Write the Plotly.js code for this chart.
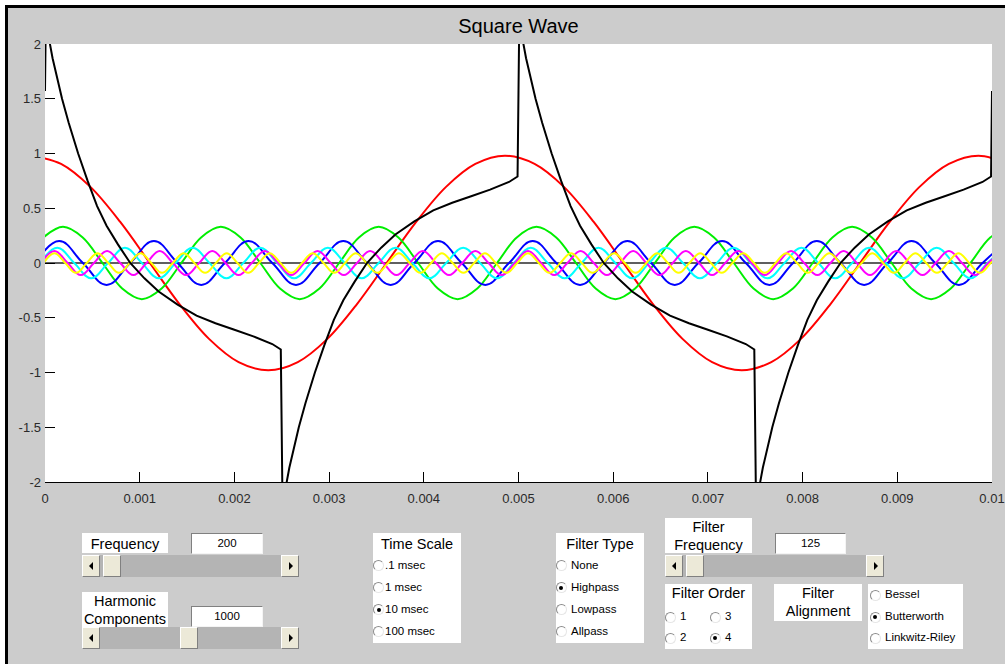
<!DOCTYPE html>
<html>
<head>
<meta charset="utf-8">
<script src="https://cdn.plot.ly/plotly-3.0.1.min.js"></script>
<style>
html,body{margin:0;padding:0;width:1005px;height:664px;overflow:hidden;background:#ffffff;}
body{position:relative;font-family:"Liberation Sans",Arial,sans-serif;}
#frame{position:absolute;left:5px;top:5px;width:1000px;height:659px;box-sizing:border-box;background:#cccccc;border-left:3px solid #000;border-top:3px solid #000;}
#chart{position:absolute;left:0;top:0;width:1005px;height:664px;}
#ui{position:absolute;left:0;top:0;width:1005px;height:664px;pointer-events:none;}
.wbox{position:absolute;background:#fff;}
.txt{position:absolute;white-space:nowrap;color:#000;line-height:1;}
.edit{position:absolute;background:#fff;box-sizing:border-box;border-top:1px solid #808080;border-left:1px solid #808080;border-right:1px solid #f4f4f4;border-bottom:1px solid #f4f4f4;}
.slider{position:absolute;background:#b4b4b4;}
.btn{position:absolute;top:0;height:22px;box-sizing:border-box;background:#ece9d8;border-top:1px solid #ffffff;border-left:1px solid #ffffff;border-right:1px solid #808080;border-bottom:1px solid #808080;}
.arl{position:absolute;left:6px;top:6px;width:0;height:0;border-top:4px solid transparent;border-bottom:4px solid transparent;border-right:4px solid #000;}
.arr{position:absolute;left:7px;top:6px;width:0;height:0;border-top:4px solid transparent;border-bottom:4px solid transparent;border-left:4px solid #000;}
.rb{position:absolute;width:11px;height:11px;border-radius:50%;box-sizing:border-box;border:1px solid;border-color:#8c8c8c #e6e6e6 #e6e6e6 #8c8c8c;background:#fff;}
.rb.on::after{content:'';position:absolute;left:2.5px;top:2.5px;width:4px;height:4px;border-radius:50%;background:#000;}
</style>
</head>
<body>
<div id="frame"></div>
<div id="chart"></div>
<div id="ui"></div>
<script>
// ---------- data ----------
const xTickVals = [0, 0.001, 0.002, 0.003, 0.004, 0.005, 0.006, 0.007, 0.008, 0.009, 0.01];
const xTickText = ['0', '0.001', '0.002', '0.003', '0.004', '0.005', '0.006', '0.007', '0.008', '0.009', '0.01'];
const yTickVals = [-2, -1.5, -1, -0.5, 0, 0.5, 1, 1.5, 2];
const yTickText = ['-2', '-1.5', '-1', '-0.5', '0', '0.5', '1', '1.5', '2'];

// fundamental (red): samples every 1/16 period, starting at the peak just before t=0
const redStart = -0.000143, redStep = 0.0003125;
const redY = [
 0.98,0.905,0.693,0.375,0,-0.375,-0.693,-0.905,-0.98,-0.905,-0.693,-0.375,0,0.375,0.693,0.905,
 0.98,0.905,0.693,0.375,0,-0.375,-0.693,-0.905,-0.98,-0.905,-0.693,-0.375,0,0.375,0.693,0.905,
 0.98,0.905];

// 3rd harmonic (green): samples every 1/8 period
const greenStart = -0.0000183, greenStep = 0.00020833;
const greenY = [
 0.233,0.33,0.233,0,-0.233,-0.33,-0.233,0,
 0.233,0.33,0.233,0,-0.233,-0.33,-0.233,0,
 0.233,0.33,0.233,0,-0.233,-0.33,-0.233,0,
 0.233,0.33,0.233,0,-0.233,-0.33,-0.233,0,
 0.233,0.33,0.233,0,-0.233,-0.33,-0.233,0,
 0.233,0.33,0.233,0,-0.233,-0.33,-0.233,0,
 0.233,0.33];

// 5th harmonic (blue): zero crossings and peaks
const blueStart = -0.0001, blueStep = 0.00025;
const blueY = [
 0,0.2,0,-0.2, 0,0.2,0,-0.2, 0,0.2,0,-0.2, 0,0.2,0,-0.2, 0,0.2,0,-0.2,
 0,0.2,0,-0.2, 0,0.2,0,-0.2, 0,0.2,0,-0.2, 0,0.2,0,-0.2, 0,0.2,0,-0.2,
 0,0.2];

// 7th harmonic (cyan)
const cyanStart = -0.0000486, cyanStep = 0.00017857;
const cyanY = [
 0,0.14,0,-0.14, 0,0.14,0,-0.14, 0,0.14,0,-0.14, 0,0.14,0,-0.14, 0,0.14,0,-0.14,
 0,0.14,0,-0.14, 0,0.14,0,-0.14, 0,0.14,0,-0.14, 0,0.14,0,-0.14, 0,0.14,0,-0.14,
 0,0.14,0,-0.14, 0,0.14,0,-0.14, 0,0.14,0,-0.14, 0,0.14,0,-0.14,
 0,0.14];

// 9th harmonic (magenta)
const magentaStart = -0.0000389, magentaStep = 0.00013889;
const magentaY = [
 0,0.11,0,-0.11, 0,0.11,0,-0.11, 0,0.11,0,-0.11, 0,0.11,0,-0.11, 0,0.11,0,-0.11,
 0,0.11,0,-0.11, 0,0.11,0,-0.11, 0,0.11,0,-0.11, 0,0.11,0,-0.11, 0,0.11,0,-0.11,
 0,0.11,0,-0.11, 0,0.11,0,-0.11, 0,0.11,0,-0.11, 0,0.11,0,-0.11, 0,0.11,0,-0.11,
 0,0.11,0,-0.11, 0,0.11,0,-0.11, 0,0.11,0,-0.11,
 0,0.11];

// 11th harmonic (yellow)
const yellowStart = -0.0000136, yellowStep = 0.00011364;
const yellowY = [
 0,0.09,0,-0.09, 0,0.09,0,-0.09, 0,0.09,0,-0.09, 0,0.09,0,-0.09, 0,0.09,0,-0.09,
 0,0.09,0,-0.09, 0,0.09,0,-0.09, 0,0.09,0,-0.09, 0,0.09,0,-0.09, 0,0.09,0,-0.09,
 0,0.09,0,-0.09, 0,0.09,0,-0.09, 0,0.09,0,-0.09, 0,0.09,0,-0.09, 0,0.09,0,-0.09,
 0,0.09,0,-0.09, 0,0.09,0,-0.09, 0,0.09,0,-0.09, 0,0.09,0,-0.09, 0,0.09,0,-0.09,
 0,0.09,0,-0.09, 0,0.09,0,-0.09,
 0,0.09];

// filtered square wave (black), sum of all components
const sumT = [
 0,0.00001,0.00003,0.00005,0.00008,0.00012,0.00018,0.00025,0.00035,0.00045,0.00055,0.00065,0.00077,0.0009,0.00105,0.0012,0.0014,0.0016,0.0018,0.002,0.0022,0.0024,0.00249,
 0.0025,0.00251,0.00253,0.00255,0.00258,0.00262,0.00268,0.00275,0.00285,0.00295,0.00305,0.00315,0.00327,0.0034,0.00355,0.0037,0.0039,0.0041,0.0043,0.0045,0.0047,0.0049,0.00499,
 0.005,0.00501,0.00503,0.00505,0.00508,0.00512,0.00518,0.00525,0.00535,0.00545,0.00555,0.00565,0.00577,0.0059,0.00605,0.0062,0.0064,0.0066,0.0068,0.007,0.0072,0.0074,0.00749,
 0.0075,0.00751,0.00753,0.00755,0.00758,0.00762,0.00768,0.00775,0.00785,0.00795,0.00805,0.00815,0.00827,0.0084,0.00855,0.0087,0.0089,0.0091,0.0093,0.0095,0.0097,0.0099,0.00999,
 0.01];
const sumY = [
 1.57,2.36,2.16,2.01,1.87,1.72,1.50,1.28,1.00,0.75,0.52,0.34,0.17,0,-0.14,-0.26,-0.38,-0.48,-0.55,-0.61,-0.67,-0.74,-0.79,
 -1.57,-2.36,-2.16,-2.01,-1.87,-1.72,-1.50,-1.28,-1.00,-0.75,-0.52,-0.34,-0.17,0,0.14,0.26,0.38,0.48,0.55,0.61,0.67,0.74,0.79,
 1.57,2.36,2.16,2.01,1.87,1.72,1.50,1.28,1.00,0.75,0.52,0.34,0.17,0,-0.14,-0.26,-0.38,-0.48,-0.55,-0.61,-0.67,-0.74,-0.79,
 -1.57,-2.36,-2.16,-2.01,-1.87,-1.72,-1.50,-1.28,-1.00,-0.75,-0.52,-0.34,-0.17,0,0.14,0.26,0.38,0.48,0.55,0.61,0.67,0.74,0.79,
 1.57];

// ---------- chart ----------
function wave(y, x0, dx, color, smooth){
  return {type:'scatter', mode:'lines', y:y, x0:x0, dx:dx,
          line:{color:color, width:2, shape:'spline', smoothing:smooth}, hoverinfo:'skip'};
}
const traces = [
  wave(redY, redStart, redStep, '#ff0000', 1),
  wave(greenY, greenStart, greenStep, '#00ee00', 1),
  wave(blueY, blueStart, blueStep, '#0000ff', 1.2),
  wave(cyanY, cyanStart, cyanStep, '#00ffff', 1.2),
  wave(magentaY, magentaStart, magentaStep, '#ff00ff', 1.2),
  wave(yellowY, yellowStart, yellowStep, '#ffff00', 1.2),
  {type:'scatter', mode:'lines', x:sumT, y:sumY, line:{color:'#000000', width:2}, hoverinfo:'skip'}
];
const tickFont = {family:'"Liberation Sans", Arial, sans-serif', size:13, color:'#2a2a2a'};
const layout = {
  width:1005, height:664,
  margin:{l:45, r:13, t:44, b:182, pad:0},
  paper_bgcolor:'rgba(0,0,0,0)', plot_bgcolor:'#ffffff',
  showlegend:false,
  title:{text:'Square Wave', font:{family:'"Liberation Sans", Arial, sans-serif', size:20, color:'#000'},
         x:0.5, xref:'paper', xanchor:'center', y:1-26/664, yref:'container', yanchor:'middle'},
  xaxis:{range:[0,0.01], tickmode:'array', tickvals:xTickVals, ticktext:xTickText,
         ticks:'inside', ticklen:10, tickwidth:1, tickcolor:'#000',
         showline:true, linecolor:'#000', linewidth:1, showgrid:false, zeroline:false,
         tickfont:tickFont, ticklabelstandoff:4, fixedrange:true},
  yaxis:{range:[-2,2], tickmode:'array', tickvals:yTickVals, ticktext:yTickText,
         ticks:'inside', ticklen:10, tickwidth:1, tickcolor:'#000',
         showline:false, showgrid:false, zeroline:true, zerolinecolor:'#606060', zerolinewidth:1.5,
         tickfont:tickFont, ticklabelstandoff:3, fixedrange:true}
};
Plotly.newPlot('chart', traces, layout, {staticPlot:true, displayModeBar:false});

// ---------- control panel ----------
const ui = document.getElementById('ui');
function add(cls, l, t, w, h, html){
  const d = document.createElement('div');
  d.className = cls;
  d.style.left = l + 'px'; d.style.top = t + 'px';
  if (w) d.style.width = w + 'px';
  if (h) d.style.height = h + 'px';
  if (html !== undefined) d.innerHTML = html;
  ui.appendChild(d);
  return d;
}
function text(str, x, y, size, left){
  const d = add('txt', x, y, 0, 0, str);
  d.style.width = 'auto'; d.style.height = 'auto';
  d.style.fontSize = size + 'px';
  d.style.transform = left ? 'translate(0,-50%)' : 'translate(-50%,-50%)';
  return d;
}
function slider(l, t, w, thumbL){
  const s = add('slider', l, t, w, 22);
  s.innerHTML =
    '<div class="btn" style="left:0;width:18px"><div class="arl"></div></div>' +
    '<div class="btn" style="left:' + (thumbL - l) + 'px;width:18px"></div>' +
    '<div class="btn" style="left:' + (w - 18) + 'px;width:18px"><div class="arr"></div></div>';
}
function radio(cx, cy, on){
  add('rb' + (on ? ' on' : ''), cx - 5.5, cy - 5.5, 11, 11);
}

// Frequency
add('wbox', 82, 533, 86, 20); text('Frequency', 125, 543.5, 14.5);
add('edit', 191, 533, 72, 21); text('200', 227, 543.5, 11.5);
slider(82, 555, 217, 103);
// Harmonic components
add('wbox', 82, 592, 86, 35); text('Harmonic', 125, 601, 14.5); text('Components', 125, 618.5, 14.5);
add('edit', 191, 606, 72, 21); text('1000', 227, 616.5, 11.5);
slider(82, 627, 217, 180);

// Time scale
add('wbox', 373, 533, 88, 110); text('Time Scale', 417, 543.5, 14.5);
radio(378.5, 565.5, false); text('.1 msec', 385, 565.5, 11.5, true);
radio(378.5, 587.5, false); text('1 msec', 385, 587.5, 11.5, true);
radio(378.5, 609.5, true);  text('10 msec', 385, 609.5, 11.5, true);
radio(378.5, 631.5, false); text('100 msec', 385, 631.5, 11.5, true);

// Filter type
add('wbox', 556, 533, 88, 110); text('Filter Type', 600, 543.5, 14.5);
radio(561, 565.5, false); text('None', 571, 565.5, 11.5, true);
radio(561, 587.5, true);  text('Highpass', 571, 587.5, 11.5, true);
radio(561, 609.5, false); text('Lowpass', 571, 609.5, 11.5, true);
radio(561, 631.5, false); text('Allpass', 571, 631.5, 11.5, true);

// Filter frequency
add('wbox', 665, 518, 87, 35); text('Filter', 708.5, 527, 14.5); text('Frequency', 708.5, 544.5, 14.5);
add('edit', 775, 533, 71, 21); text('125', 810.5, 543.5, 11.5);
slider(665, 555, 219, 686);

// Filter order
add('wbox', 665, 584, 87, 65); text('Filter Order', 708.5, 593, 14.5);
radio(670, 617, false); text('1', 680, 617, 11.5, true);
radio(715, 617, false); text('3', 725, 617, 11.5, true);
radio(670, 638, false); text('2', 680, 638, 11.5, true);
radio(715, 638, true);  text('4', 725, 638, 11.5, true);

// Filter alignment
add('wbox', 774, 584, 88, 37); text('Filter', 818, 593, 14.5); text('Alignment', 818, 610.5, 14.5);
add('wbox', 868, 584, 95, 65);
radio(875, 595, false); text('Bessel', 885, 595, 11.5, true);
radio(875, 617, true);  text('Butterworth', 885, 617, 11.5, true);
radio(875, 638, false); text('Linkwitz-Riley', 885, 638, 11.5, true);
</script>
</body>
</html>
